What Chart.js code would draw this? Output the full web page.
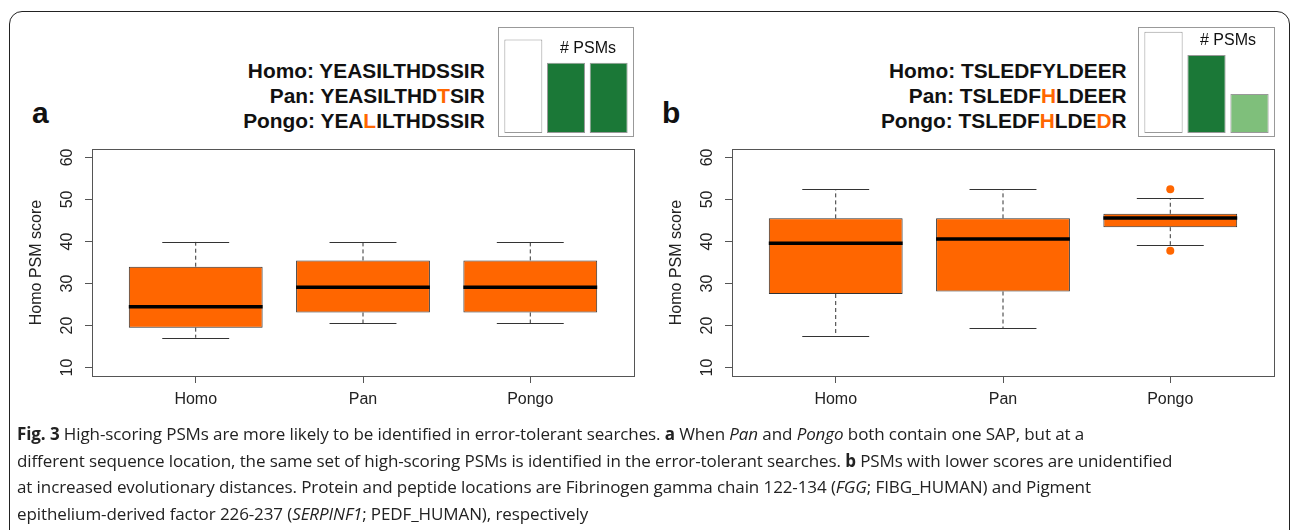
<!DOCTYPE html>
<html>
<head>
<meta charset="utf-8">
<script src="https://cdn.jsdelivr.net/npm/chart.js@4.4.0/dist/chart.umd.min.js"></script>
<style>
    html, body {margin: 0; padding: 0; background: #fff;}
    body {width: 1292px; height: 530px; position: relative; overflow: hidden; font-family: 'Liberation Sans', Arial, sans-serif; color: #111;}
    #frame {position: absolute; left: 9px; top: 11px; width: 1281px; height: 600px; border: 1.5px solid #222; border-radius: 13px; box-sizing: border-box;}
    canvas {position: absolute;}
    .seq {position: absolute; top: 59px; font-weight: bold; font-size: 19.5px; line-height: 25px; text-align: right; white-space: nowrap; transform: scaleX(1.07); transform-origin: right top;}
    .mut {color: #FF6600;}
    .letter {position: absolute; top: 98px; font-weight: bold; font-size: 30px; line-height: 30px;}
    .psm {position: absolute; font-size: 16px; white-space: nowrap; transform: translate(-50%, -50%);}
    #caption {position: absolute; left: 17px; top: 421px; font-family: 'Open Sans', sans-serif; font-size: 17px; line-height: 26.5px; letter-spacing: -0.1px; white-space: nowrap; color: #222;}
</style>
</head>
<body>
<div id="frame"></div>

<div class="letter" style="left: 32px">a</div>
<div class="letter" style="left: 662px">b</div>
<div class="seq" id="seqA" style="right: 807px"></div>
<div class="seq" id="seqB" style="right: 165px"></div>

<canvas id="psmA" width="136" height="110" style="left: 498px; top: 27px"></canvas>
<canvas id="psmB" width="137" height="110" style="left: 1138px; top: 27px"></canvas>
<div class="psm" style="left: 588px; top: 48px"># PSMs</div>
<div class="psm" style="left: 1228px; top: 40px"># PSMs</div>

<canvas id="boxA" width="650" height="285" style="left: 0; top: 140px"></canvas>
<canvas id="boxB" width="650" height="285" style="left: 640px; top: 140px"></canvas>

<div id="caption"><b>Fig. 3</b> High-scoring PSMs are more likely to be identified in error-tolerant searches. <b>a</b> When <i>Pan</i> and <i>Pongo</i> both contain one SAP, but at a<br>different sequence location, the same set of high-scoring PSMs is identified in the error-tolerant searches. <b>b</b> PSMs with lower scores are unidentified<br>at increased evolutionary distances. Protein and peptide locations are Fibrinogen gamma chain 122-134 (<i>FGG</i>; FIBG_HUMAN) and Pigment<br>epithelium-derived factor 226-237 (<i>SERPINF1</i>; PEDF_HUMAN), respectively</div>

<script>
const species = ['Homo', 'Pan', 'Pongo'] // 物种
const yTicks = [10, 20, 30, 40, 50, 60] // 纵轴刻度

// 图 a
const seqA = ['YEASILTHDSSIR', 'YEASILTHDTSIR', 'YEALILTHDSSIR'] // 肽段序列
const psmCountA = [12, 9, 9] // PSM 数
const lowA = [17.1, 20.5, 20.5] // 下须
const q1A = [19.5, 23.1, 23.1] // 下四分位
const medA = [24.5, 29.1, 29.1] // 中位数
const q3A = [34.0, 35.5, 35.5] // 上四分位
const highA = [39.9, 39.9, 39.9] // 上须
const outA = [[], [], []] // 离群点

// 图 b
const seqB = ['TSLEDFYLDEER', 'TSLEDFHLDEER', 'TSLEDFHLDEDR']
const psmCountB = [13, 10, 5]
const lowB = [17.6, 19.3, 39.2]
const q1B = [27.5, 28.1, 43.4]
const medB = [39.6, 40.6, 45.6]
const q3B = [45.5, 45.5, 46.6]
const highB = [52.4, 52.4, 50.3]
const outB = [[], [], [52.4, 37.8]]

Chart.defaults.font.family = "'Liberation Sans', Arial, sans-serif"
Chart.defaults.color = '#222'

function seqHtml(seqs) { // 突变位点标橙
    return seqs.map((s, i) => {
        let html = ''
        for (let k = 0; k < s.length; k++) {
            html += s[k] !== seqs[0][k] ? `<span class="mut">${s[k]}</span>` : s[k]
        }
        return `${species[i]}: ${html}`
    }).join('<br>')
}
document.getElementById('seqA').innerHTML = seqHtml(seqA)
document.getElementById('seqB').innerHTML = seqHtml(seqB)

const boxParts = { // 须线与中位线
    id: 'boxParts',
    afterDatasetsDraw(chart, args, opts) {
        const {ctx, scales: {x, y}} = chart
        const bars = chart.getDatasetMeta(0).data
        ctx.save()
        bars.forEach((bar, i) => {
            const cx = x.getPixelForValue(i + 1)
            const half = bar.width / 2
            ctx.strokeStyle = '#333'
            ctx.lineWidth = 1
            ctx.setLineDash([4, 3])
            ctx.beginPath()
            ctx.moveTo(cx, y.getPixelForValue(opts.q3[i]))
            ctx.lineTo(cx, y.getPixelForValue(opts.high[i]))
            ctx.moveTo(cx, y.getPixelForValue(opts.q1[i]))
            ctx.lineTo(cx, y.getPixelForValue(opts.low[i]))
            ctx.stroke()
            ctx.setLineDash([])
            ctx.beginPath()
            for (const v of [opts.high[i], opts.low[i]]) {
                const py = Math.round(y.getPixelForValue(v)) + 0.5
                ctx.moveTo(cx - half / 2, py)
                ctx.lineTo(cx + half / 2, py)
            }
            ctx.stroke()
            ctx.strokeStyle = '#000'
            ctx.lineWidth = 3.5
            ctx.beginPath()
            const my = y.getPixelForValue(opts.med[i])
            ctx.moveTo(cx - half, my)
            ctx.lineTo(cx + half, my)
            ctx.stroke()
        })
        ctx.restore()
    }
}

const plotFrame = {
    id: 'plotFrame',
    afterDraw(chart) {
        const {ctx, chartArea: a} = chart
        ctx.save()
        ctx.strokeStyle = '#555'
        ctx.lineWidth = 1
        ctx.strokeRect(Math.round(a.left) + 0.5, Math.round(a.top) + 0.5, Math.round(a.right - a.left), Math.round(a.bottom - a.top))
        ctx.restore()
    }
}

const insetFrame = {
    id: 'insetFrame',
    afterDraw(chart) {
        const ctx = chart.ctx
        ctx.save()
        ctx.strokeStyle = '#999'
        ctx.lineWidth = 1
        ctx.strokeRect(0.5, 0.5, chart.width - 1, chart.height - 1)
        ctx.restore()
    }
}

function boxChart(id, low, q1, med, q3, high, out) {
    const points = []
    out.forEach((list, i) => list.forEach(v => points.push({x: i + 1, y: v})))
    new Chart(document.getElementById(id), {
        type: 'bar',
        data: {
            datasets: [{
                data: species.map((s, i) => ({x: i + 1, y: [q1[i], q3[i]]})),
                backgroundColor: '#FF6600',
                borderColor: '#333',
                borderWidth: 1,
                borderSkipped: false,
                categoryPercentage: 0.8,
                barPercentage: 1
            }, {
                type: 'scatter',
                data: points,
                pointRadius: 4,
                pointBackgroundColor: '#FF6600',
                pointBorderWidth: 0
            }]
        },
        options: {
            responsive: false,
            animation: false,
            events: [],
            layout: {padding: {left: 18, right: 16, top: 9, bottom: 0}},
            plugins: {
                legend: {display: false},
                tooltip: {enabled: false},
                boxParts: {low, q1, med, q3, high}
            },
            scales: {
                x: {
                    type: 'linear', min: 0.38, max: 3.62, offset: false,
                    afterBuildTicks: s => { s.ticks = species.map((n, i) => ({value: i + 1})) },
                    afterFit: s => { s.height = 49; s.paddingLeft = 0; s.paddingRight = 0 },
                    ticks: {callback: v => species[v - 1], font: {size: 16}, padding: 7, maxRotation: 0, autoSkip: false},
                    grid: {drawOnChartArea: false, tickLength: 7, color: '#555', offset: false},
                    border: {display: false}
                },
                y: {
                    min: 8, max: 62,
                    afterBuildTicks: s => { s.ticks = yTicks.map(v => ({value: v})) },
                    afterFit: s => { s.width = 74; s.paddingTop = 0; s.paddingBottom = 0 },
                    ticks: {font: {size: 16}, minRotation: 90, maxRotation: 90, crossAlign: 'center', padding: 9, autoSkip: false},
                    grid: {drawOnChartArea: false, tickLength: 7, color: '#555'},
                    border: {display: false},
                    title: {display: true, text: 'Homo PSM score', font: {size: 16}, padding: {top: 9, bottom: 0}}
                }
            }
        },
        plugins: [boxParts, plotFrame]
    })
}

function psmChart(id, counts, colors) {
    new Chart(document.getElementById(id), {
        type: 'bar',
        data: {
            labels: species,
            datasets: [{
                data: counts,
                backgroundColor: colors,
                borderColor: '#999',
                borderWidth: 1,
                borderSkipped: false,
                categoryPercentage: 1,
                barPercentage: 0.89
            }]
        },
        options: {
            responsive: false,
            animation: false,
            events: [],
            layout: {padding: {left: 4, right: 4, top: 0, bottom: 4}},
            plugins: {legend: {display: false}, tooltip: {enabled: false}},
            scales: {x: {display: false}, y: {display: false, min: 0, max: 13.6}}
        },
        plugins: [insetFrame]
    })
}

boxChart('boxA', lowA, q1A, medA, q3A, highA, outA)
boxChart('boxB', lowB, q1B, medB, q3B, highB, outB)
psmChart('psmA', psmCountA, ['#FFFFFF', '#1B7837', '#1B7837'])
psmChart('psmB', psmCountB, ['#FFFFFF', '#1B7837', '#7FBF7B'])
</script>
</body>
</html>
